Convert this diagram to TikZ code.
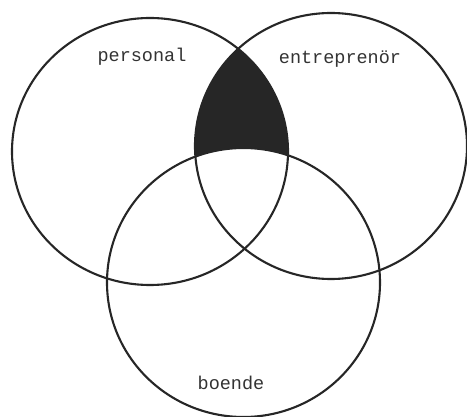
\documentclass[tikz,border=0pt]{standalone}
\usepackage{fontspec}
\newfontfamily\labelfont{Liberation Mono}
\tikzset{
  ring/.style={draw=black!85, line width=2.1pt},
  lbl/.style={font=\labelfont\fontsize{18.5}{20}\selectfont, text=black!80, anchor=base, inner sep=0pt}
}
\begin{document}
\begin{tikzpicture}[x=1pt,y=-1pt]
\useasboundingbox (0,0) rectangle (467,417);
\fill[white] (0,0) rectangle (467,417);
% shaded region: personal AND entreprenor, NOT boende
\begin{scope}
  \clip (150,151.5) ellipse (138pt and 133.5pt);
  \clip (331,146) ellipse (136pt and 133pt);
  \fill[black!85] (0,0) rectangle (467,417);
  \fill[white] (243.5,282.5) ellipse (136.5pt and 134.5pt);
\end{scope}
\draw[ring] (150,151.5) ellipse (138pt and 133.5pt);
\draw[ring] (331,146) ellipse (136pt and 133pt);
\draw[ring] (243.5,282.5) ellipse (136.5pt and 134.5pt);
\node[lbl] (personal) at (142,62) {personal};
\node[lbl] (entre) at (340,64) {entreprenör};
\node[lbl] (boende) at (231,390) {boende};
\end{tikzpicture}
\end{document}
